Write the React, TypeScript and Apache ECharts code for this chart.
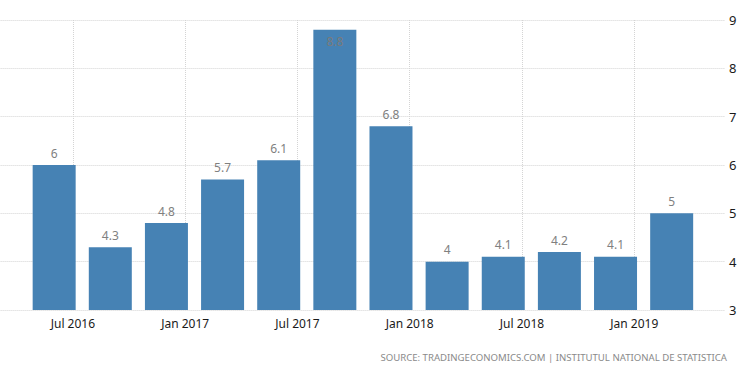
import React, { useEffect, useRef } from "react";
import * as echarts from "echarts";

// Quarter dates (month in which each bar is drawn) and GDP growth values
const quarters = [
  "2016-06", "2016-09", "2016-12", "2017-03", "2017-06", "2017-09",
  "2017-12", "2018-03", "2018-06", "2018-09", "2018-12", "2019-03",
];
const values = [6, 4.3, 4.8, 5.7, 6.1, 8.8, 6.8, 4, 4.1, 4.2, 4.1, 5];

// X-axis tick labels and their dates
const tickDates = ["2016-07", "2017-01", "2017-07", "2018-01", "2018-07", "2019-01"];
const tickLabels = ["Jul 2016", "Jan 2017", "Jul 2017", "Jan 2018", "Jul 2018", "Jan 2019"];

// Y-axis range
const yMin = 3;
const yMax = 9;
const yStep = 1;

const sourceText = "SOURCE: TRADINGECONOMICS.COM | INSTITUTUL NATIONAL DE STATISTICA";

const BASE_YEAR = 2016;
const monthIndex = (s: string) => {
  const [y, m] = s.split("-").map(Number);
  return (y - BASE_YEAR) * 12 + (m - 1);
};

const FONT = "'Noto Sans', 'DejaVu Sans', sans-serif";

export default function App() {
  const ref = useRef<HTMLDivElement>(null);

  useEffect(() => {
    if (!ref.current) return;
    const chart = echarts.init(ref.current, null, { renderer: "svg" });
    const tickMonths = tickDates.map(monthIndex);

    const data = quarters.map((q, i) => {
      const v = values[i];
      const inside = v > yMax - 0.4;
      return {
        value: [monthIndex(q), v],
        label: inside
          ? { position: "insideTop", distance: 6, color: "#7a7a7a" }
          : undefined,
      };
    });

    chart.setOption({
      animation: false,
      backgroundColor: "#ffffff",
      grid: {
        left: -39.4,
        right: 25,
        top: 20,
        bottom: 63,
        containLabel: false,
        outerBoundsMode: "none",
      },
      xAxis: {
        type: "value",
        min: 0,
        max: 40.85,
        interval: 6,
        axisLine: { show: false },
        axisTick: { show: false },
        axisLabel: {
          color: "#1a1a1a",
          fontSize: 12,
          fontFamily: FONT,
          margin: 7,
          showMaxLabel: false,
          showMinLabel: false,
          formatter: (v: number) => {
            const i = tickMonths.indexOf(Math.round(v * 1000) / 1000);
            return i >= 0 ? tickLabels[i] : "";
          },
        },
        splitLine: {
          show: true,
          showMaxLine: false,
          showMinLine: false,
          lineStyle: { color: "#d4d4d4", type: [1, 1], width: 1 },
        },
      },
      yAxis: {
        type: "value",
        position: "right",
        min: yMin,
        max: yMax,
        interval: yStep,
        axisLine: { show: false },
        axisTick: { show: false },
        axisLabel: {
          color: "#1a1a1a",
          fontSize: 13,
          fontFamily: FONT,
          margin: 4,
        },
        splitLine: {
          show: true,
          lineStyle: { color: "#d4d4d4", type: [1, 1], width: 1 },
        },
      },
      series: [
        {
          type: "bar",
          barWidth: 43,
          itemStyle: { color: "#4682b4" },
          label: {
            show: true,
            position: "top",
            distance: 6,
            color: "#808080",
            fontSize: 12,
            fontFamily: FONT,
          },
          data,
        },
      ],
      graphic: [
        {
          type: "text",
          right: 23,
          top: 352,
          style: {
            text: sourceText,
            fill: "#8a8a8a",
            fontSize: 9.6,
            fontFamily: FONT,
          },
        },
      ],
    });

    return () => chart.dispose();
  }, []);

  return (
    <div
      ref={ref}
      style={{ position: "fixed", left: 0, top: 0, width: 750, height: 373 }}
    />
  );
}
